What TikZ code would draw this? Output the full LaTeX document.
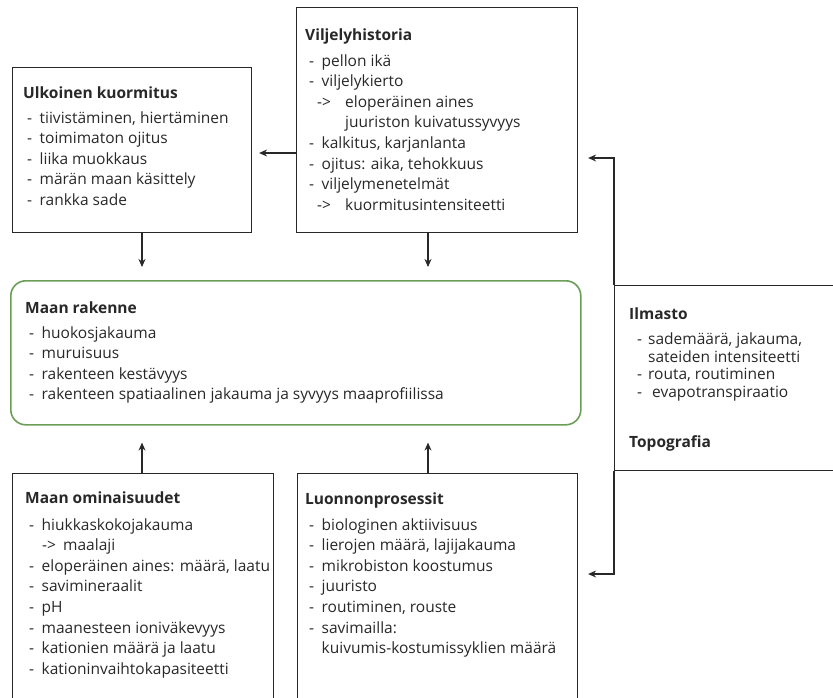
\documentclass[tikz,border=0pt]{standalone}
\usepackage{fontspec}
\setmainfont{Open Sans}
\usetikzlibrary{arrows.meta}
\definecolor{soilgreen}{RGB}{108,158,88}
\definecolor{inkgray}{RGB}{40,40,40}
\tikzstyle{Box}=[rectangle, draw=inkgray, line width=1.1pt, anchor=north west, inner sep=0pt]
\tikzstyle{Soil}=[rectangle, rounded corners=15pt, draw=soilgreen, line width=1.6pt, anchor=north west, inner sep=0pt]
\tikzstyle{Txt}=[anchor=north west, align=left, inner sep=0pt, text=inkgray, font=\fontsize{15.5}{20.6}\selectfont]
\tikzstyle{Link}=[-{Stealth[length=8pt,width=7pt]}, draw=inkgray, line width=1.1pt]
\newcommand{\li}{\hspace*{4pt}-\hspace*{7.5pt}}
\newcommand{\sub}[2]{\hspace*{#1}\makebox[#2][l]{->}}

\begin{document}
\begin{tikzpicture}[x=1pt,y=-1pt]
    \clip (0,0) rectangle (833,697);
    \fill[white] (0,0) rectangle (833,697);
    \path
    (12,67) node[Box, minimum width=239, minimum height=165] (ulko) {}
    (296,7) node[Box, minimum width=281, minimum height=225] (vilj) {}
    (10,280) node[Soil, minimum width=570, minimum height=144] (rakenne) {}
    (12,473) node[Box, minimum width=261, minimum height=260] (omin) {}
    (297,473) node[Box, minimum width=280, minimum height=260] (luonto) {}
    (614,285) node[Box, minimum width=260, minimum height=185] (ilma) {};

    \path (ulko.north west) ++(11,19.5) node[Txt] (ulkotxt) {\textbf{Ulkoinen kuormitus}\\[4pt]
      \li tiivistäminen, hiertäminen\\ \li toimimaton ojitus\\ \li liika muokkaus\\
      \li märän maan käsittely\\ \li rankka sade};
    \path (vilj.north west) ++(9,21.5) node[Txt] (viljtxt) {\textbf{Viljelyhistoria}\\[5pt]
      \li pellon ikä\\ \li viljelykierto\\ \sub{12pt}{28pt}eloperäinen aines\\
      \hspace*{40pt}juuriston kuivatussyvyys\\ \li kalkitus, karjanlanta\\
      \li ojitus: aika, tehokkuus\\ \li viljelymenetelmät\\ \sub{12pt}{28pt}kuormitusintensiteetti};
    \path (rakenne.north west) ++(15,21.5) node[Txt] (rakennetxt) {\textbf{Maan rakenne}\\[4pt]
      \li huokosjakauma\\ \li muruisuus\\ \li rakenteen kestävyys\\
      \li rakenteen spatiaalinen jakauma ja syvyys maaprofiilissa};
    \path (omin.north west) ++(13,18.5) node[Txt] (omintxt) {\textbf{Maan ominaisuudet}\\[6pt]
      \li hiukkaskokojakauma\\ \sub{17pt}{21pt}maalaji\\ \li eloperäinen aines: määrä, laatu\\
      \li savimineraalit\\ \li pH\\ \li maanesteen ioniväkevyys\\
      \li kationien määrä ja laatu\\ \li kationinvaihtokapasiteetti};
    \path (luonto.north west) ++(8,19.5) node[Txt] (luontotxt) {\textbf{Luonnonprosessit}\\[5pt]
      \li biologinen aktiivisuus\\ \li lierojen määrä, lajijakauma\\ \li mikrobiston koostumus\\
      \li juuristo\\ \li routiminen, rouste\\ \li savimailla:\\
      \hspace*{16.5pt}kuivumis-kostumissyklien määrä};
    \path (ilma.north west) ++(15,22.5) node[Txt, font=\fontsize{15.5}{17.8}\selectfont] (ilmatxt) {\textbf{Ilmasto}\\[7pt]
      \hspace*{8pt}-\hspace*{6pt}sademäärä, jakauma,\\ \hspace*{19pt}sateiden intensiteetti\\
      \hspace*{8pt}-\hspace*{6pt}routa, routiminen\\
      \hspace*{8pt}-\hspace*{10pt}evapotranspiraatio\\[32pt] \textbf{Topografia}};

    \coordinate (xl) at (142,0);
    \coordinate (xr) at (428,0);
    \coordinate (yul) at (0,153);
    \coordinate (ytop) at (0,158);
    \coordinate (ybot) at (0,574);
    \draw[Link, shorten >=13pt] (ulko.south -| xl) -- (rakenne.north -| xl);
    \draw[Link, shorten >=13pt] (vilj.south -| xr) -- (rakenne.north -| xr);
    \draw[Link, shorten >=17pt] (omin.north -| xl) -- (rakenne.south -| xl);
    \draw[Link, shorten >=17pt] (luonto.north -| xr) -- (rakenne.south -| xr);
    \draw[Link, shorten >=7pt] (vilj.west |- yul) -- (ulko.east |- yul);
    \draw[Link, shorten >=10pt] (ilma.north west) -- (ilma.west |- ytop) -- (vilj.east |- ytop);
    \draw[Link, shorten >=10pt] (ilma.south west) -- (ilma.west |- ybot) -- (luonto.east |- ybot);
\end{tikzpicture}
\end{document}
